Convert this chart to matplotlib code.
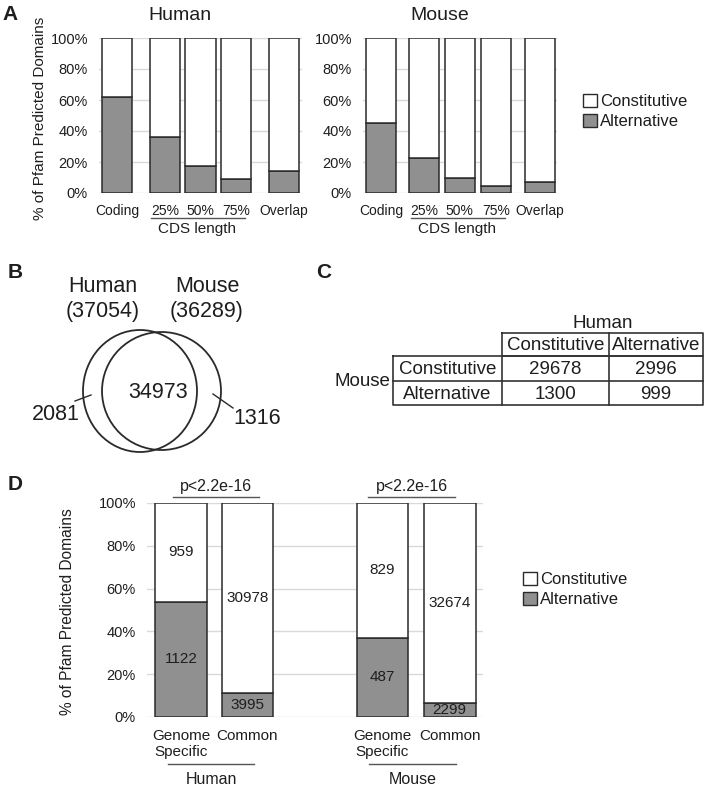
import numpy as np
import matplotlib
matplotlib.use('Agg')
import matplotlib.pyplot as plt
from matplotlib.patches import Rectangle, Ellipse
from matplotlib.ticker import PercentFormatter

plt.rcParams['font.family'] = ['Liberation Sans', 'DejaVu Sans']

# --- data ---
# A: % alternative domains per category (rest is constitutive)
a_categories = ['Coding', '25%', '50%', '75%', 'Overlap']
a_human_alt = [61.9, 36.1, 17.4, 8.8, 14.2]
a_mouse_alt = [45.2, 22.4, 9.5, 4.5, 6.9]

# B: Venn counts
venn_names = ['Human', 'Mouse']
venn_totals = [37054, 36289]
venn_shared = 34973
venn_only = [2081, 1316]

# C: mouse rows x human columns
table_classes = ['Constitutive', 'Alternative']
table_counts = [[29678, 2996],
                [1300, 999]]

# D: counts per species, [genome specific, common]
d_species = ['Human', 'Mouse']
d_groups = ['Genome\nSpecific', 'Common']
d_alt = [[1122, 3995], [487, 2299]]
d_const = [[959, 30978], [829, 32674]]
d_pvalue = 'p<2.2e-16'

GRAY = '#909090'
EDGE = '#2a2a2a'
GRID = '#d9d9d9'
TXT = '#1e1e1e'

W, H = 712, 786
fig = plt.figure(figsize=(W / 100, H / 100), dpi=100)


def px_axes(x0, y0, x1, y1):
    return fig.add_axes([x0 / W, 1 - y1 / H, (x1 - x0) / W, (y1 - y0) / H])


def style_bars(ax):
    ax.set_ylim(0, 1)
    ax.set_yticks(np.linspace(0, 1, 6))
    ax.yaxis.set_major_formatter(PercentFormatter(1.0, decimals=0))
    ax.grid(axis='y', color=GRID, lw=1)
    ax.set_axisbelow(True)
    for s in ax.spines.values():
        s.set_visible(False)
    ax.tick_params(length=0, labelsize=10.5, colors=TXT, pad=8)


def stacked(ax, x, alt, width):
    alt = np.asarray(alt)
    ax.bar(x, alt, width, color=GRAY, edgecolor=EDGE, lw=1.1, zorder=2)
    ax.bar(x, 1 - alt, width, bottom=alt, color='white', edgecolor=EDGE, lw=1.1, zorder=2)


# overlay in pixel coordinates for texts / lines
ov = fig.add_axes([0, 0, 1, 1], zorder=10)
ov.set_xlim(0, W)
ov.set_ylim(H, 0)
ov.axis('off')

# ---------- panel A ----------
ax_h = px_axes(99, 38, 302, 193)
x_h = [0, 1.35, 2.35, 3.35, 4.7]
stacked(ax_h, x_h, np.array(a_human_alt) / 100, 0.85)
ax_h.set_xlim(-0.51, 5.21)
style_bars(ax_h)
ax_h.set_xticks(x_h)
ax_h.set_xticklabels(a_categories)
ax_h.tick_params(axis='x', labelsize=10, pad=8)

ax_m = px_axes(363, 38, 557, 193)
x_m = [0, 1.19, 2.19, 3.19, 4.42]
stacked(ax_m, x_m, np.array(a_mouse_alt) / 100, 0.83)
ax_m.set_xlim(-0.5, 4.89)
style_bars(ax_m)
ax_m.set_xticks(x_m)
ax_m.set_xticklabels(a_categories)
ax_m.tick_params(axis='x', labelsize=10, pad=8)

ov.text(180, 16, 'Human', fontsize=14, ha='center', va='center', color=TXT)
ov.text(440, 16, 'Mouse', fontsize=14, ha='center', va='center', color=TXT)
for x0, x1, xc in [(151, 245, 197.5), (411, 505, 457.5)]:
    ov.plot([x0, x1], [218, 218], color='#555555', lw=1)
    ov.text(xc, 229, 'CDS length', fontsize=11, ha='center', va='center', color=TXT)
ov.text(40, 118, '% of Pfam Predicted Domains', fontsize=11, rotation=90,
        ha='center', va='center', color=TXT)

# legends
for (lx, ly) in [(583, 94), (523, 572)]:
    for i, (lab, col) in enumerate(zip(['Constitutive', 'Alternative'], ['white', GRAY])):
        yy = ly + i * 20
        ov.add_patch(Rectangle((lx, yy), 14, 13, facecolor=col, edgecolor=EDGE, lw=1))
        ov.text(lx + 17, yy + 7, lab, fontsize=12, ha='left', va='center', color=TXT)

# ---------- panel B ----------
ov.add_patch(Ellipse((140, 391), 114, 122, fill=False, edgecolor=EDGE, lw=1.3))
ov.add_patch(Ellipse((161.5, 391), 119, 118, fill=False, edgecolor=EDGE, lw=1.3))
for xc, name, tot in zip([103, 207], venn_names, venn_totals):
    ov.text(xc, 286, name, fontsize=15.5, ha='center', va='center', color=TXT)
    ov.text(xc, 312, f'({tot})', fontsize=15.5, ha='center', va='center', color=TXT)
ov.text(158, 392, str(venn_shared), fontsize=15.5, ha='center', va='center', color=TXT)
ov.text(56, 415, str(venn_only[0]), fontsize=15.5, ha='center', va='center', color=TXT)
ov.text(257, 419, str(venn_only[1]), fontsize=15.5, ha='center', va='center', color=TXT)
ov.plot([75, 91], [401, 395], color=EDGE, lw=1)
ov.plot([213, 233], [394, 408], color=EDGE, lw=1)

# ---------- panel C ----------
tk = dict(color='#333333', lw=1.2)
col_x = [393, 502, 609, 703]
row_y = [333, 356, 381, 405]
ov.plot([502, 703, 703, 502, 502], [333, 333, 356, 356, 333], **tk)
ov.plot([609, 609], [333, 356], **tk)
ov.plot([393, 703, 703, 393, 393], [356, 356, 405, 405, 356], **tk)
for xx in col_x[1:3]:
    ov.plot([xx, xx], [356, 405], **tk)
ov.plot([393, 703], [381, 381], **tk)
ov.text(603, 323, 'Human', fontsize=13.5, ha='center', va='center', color=TXT)
ov.text(362, 382, 'Mouse', fontsize=13.5, ha='center', va='center', color=TXT)
for j, lab in enumerate(table_classes):
    ov.text((col_x[j + 1] + col_x[j + 2]) / 2, 346, lab, fontsize=13.5,
            ha='center', va='center', color=TXT)
for i, lab in enumerate(table_classes):
    yc = (row_y[i + 1] + row_y[i + 2]) / 2 + 1.5
    ov.text((col_x[0] + col_x[1]) / 2, yc, lab, fontsize=13.5,
            ha='center', va='center', color=TXT)
    for j in range(2):
        ov.text((col_x[j + 1] + col_x[j + 2]) / 2, yc, str(table_counts[i][j]),
                fontsize=13.5, ha='center', va='center', color=TXT)

# ---------- panel D ----------
ax_d = px_axes(147, 503, 483, 717)
x_d = [[0, 1], [3.03, 4.04]]
for k in range(2):
    alt = np.array(d_alt[k])
    const = np.array(d_const[k])
    frac = alt / (alt + const)
    stacked(ax_d, x_d[k], frac, 0.78)
    for j in range(2):
        ax_d.text(x_d[k][j], frac[j] / 2, str(alt[j]), fontsize=11,
                  ha='center', va='center', color=TXT, zorder=3)
        ax_d.text(x_d[k][j], (1 + frac[j]) / 2, str(const[j]), fontsize=11,
                  ha='center', va='center', color=TXT, zorder=3)
ax_d.set_xlim(-0.51, 4.54)
style_bars(ax_d)
ax_d.set_xticks(x_d[0] + x_d[1])
ax_d.set_xticklabels(d_groups * 2, linespacing=1.15)
ax_d.tick_params(axis='x', labelsize=11, pad=9)
ov.text(67, 612, '% of Pfam Predicted Domains', fontsize=11.2, rotation=90,
        ha='center', va='center', color=TXT)

for (x0, x1), sp in zip([(173, 259), (368, 455)], d_species):
    xc = (x0 + x1) / 2
    ov.plot([x0, x1], [497, 497], color='#555555', lw=1)
    ov.text(xc, 487, d_pvalue, fontsize=11.5, ha='center', va='center', color=TXT)
for (x0, x1), sp in zip([(168, 254), (369, 456)], d_species):
    ov.plot([x0, x1], [764, 764], color='#555555', lw=1)
    ov.text((x0 + x1) / 2, 780, sp, fontsize=11.5, ha='center', va='center', color=TXT)

# panel letters
for lab, x, y in [('A', 10, 15), ('B', 15, 272), ('C', 324, 272), ('D', 15, 484)]:
    ov.text(x, y, lab, fontsize=15, fontweight='bold', ha='center', va='center', color=TXT)

fig.savefig('out.png', dpi=100, facecolor='white')
